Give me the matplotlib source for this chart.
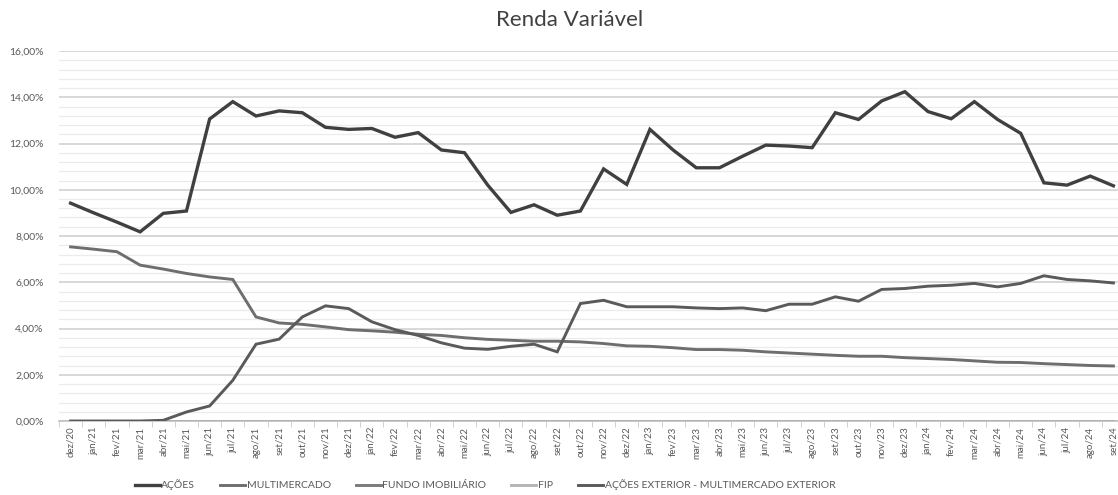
import numpy as np
import matplotlib.pyplot as plt
from matplotlib.ticker import MultipleLocator, FuncFormatter

plt.rcParams['font.family'] = ['Lato', 'DejaVu Sans']

# Monthly allocation (% of portfolio), dez/20 .. set/24
meses = ['dez/20', 'jan/21', 'fev/21', 'mar/21', 'abr/21', 'mai/21', 'jun/21', 'jul/21',
         'ago/21', 'set/21', 'out/21', 'nov/21', 'dez/21', 'jan/22', 'fev/22', 'mar/22',
         'abr/22', 'mai/22', 'jun/22', 'jul/22', 'ago/22', 'set/22', 'out/22', 'nov/22',
         'dez/22', 'jan/23', 'fev/23', 'mar/23', 'abr/23', 'mai/23', 'jun/23', 'jul/23',
         'ago/23', 'set/23', 'out/23', 'nov/23', 'dez/23', 'jan/24', 'fev/24', 'mar/24',
         'abr/24', 'mai/24', 'jun/24', 'jul/24', 'ago/24', 'set/24']

acoes = [9.42, 9.00, 8.60, 8.18, 8.98, 9.08, 13.06, 13.81, 13.19, 13.41, 13.33, 12.70,
         12.61, 12.65, 12.27, 12.47, 11.72, 11.60, 10.20, 9.02, 9.35, 8.90, 9.08, 10.90,
         10.23, 12.61, 11.72, 10.95, 10.95, 11.45, 11.93, 11.89, 11.82, 13.33, 13.04, 13.84,
         14.24, 13.38, 13.07, 13.81, 13.04, 12.44, 10.30, 10.20, 10.59, 10.17]

multimercado = [7.53, 7.43, 7.32, 6.74, 6.57, 6.38, 6.23, 6.12, 4.50, 4.24, 4.18, 4.07,
                3.95, 3.90, 3.84, 3.75, 3.70, 3.60, 3.53, 3.49, 3.45, 3.45, 3.42, 3.35,
                3.25, 3.23, 3.17, 3.09, 3.09, 3.06, 2.99, 2.94, 2.89, 2.84, 2.80, 2.80,
                2.74, 2.70, 2.66, 2.60, 2.54, 2.53, 2.48, 2.44, 2.40, 2.38]

fundo_imob = [0.0] * len(meses)
fip = [0.0] * len(meses)

acoes_exterior = [0.0, 0.0, 0.0, 0.0, 0.03, 0.39, 0.65, 1.76, 3.32, 3.54, 4.50, 4.98,
                  4.86, 4.29, 3.95, 3.70, 3.38, 3.15, 3.10, 3.23, 3.32, 2.99, 5.08, 5.22,
                  4.94, 4.94, 4.94, 4.89, 4.86, 4.89, 4.77, 5.05, 5.05, 5.37, 5.18, 5.69,
                  5.73, 5.83, 5.87, 5.95, 5.80, 5.95, 6.28, 6.12, 6.06, 5.97]

series = [
    ('AÇÕES', acoes, '#404040', 2.4),
    ('MULTIMERCADO', multimercado, '#6e6e6e', 2.1),
    ('FUNDO IMOBILIÁRIO', fundo_imob, '#7c7c7c', 2.1),
    ('FIP', fip, '#b4b4b4', 2.1),
    ('AÇÕES EXTERIOR - MULTIMERCADO EXTERIOR', acoes_exterior, '#5a5a5a', 2.1),
]

fig = plt.figure(figsize=(11.18, 4.95), dpi=100)
ax = fig.add_axes([59 / 1118, 74 / 495, 1066 / 1118, 370 / 495])

x = np.arange(len(meses))
for nome, vals, cor, lw in series:
    ax.plot(x, vals, color=cor, lw=lw, label=nome, solid_joinstyle='miter', zorder=3)

ax.set_xlim(-0.5, len(meses) - 0.5)
ax.set_ylim(0, 16)

ax.yaxis.set_major_locator(MultipleLocator(2))
ax.yaxis.set_minor_locator(MultipleLocator(0.4))
ax.yaxis.set_major_formatter(FuncFormatter(lambda v, _: f'{v:.2f}'.replace('.', ',') + '%'))
ax.grid(axis='y', which='major', color='#d2d2d2', lw=1.2, zorder=0)
ax.grid(axis='y', which='minor', color='#ebebeb', lw=0.9, zorder=0)

ax.set_xticks(x)
ax.set_xticklabels(meses, rotation=90, fontsize=7, color='#595959')
ax.set_xticks(np.arange(-0.5, len(meses), 1), minor=True)
ax.tick_params(axis='x', which='major', length=0, pad=4)
ax.tick_params(axis='x', which='minor', length=4, color='#c8c8c8')
ax.tick_params(axis='y', which='both', length=0, labelsize=7.5, labelcolor='#595959', pad=11)

for lado in ['top', 'right', 'left']:
    ax.spines[lado].set_visible(False)
ax.spines['bottom'].set_color('#c0c0c0')
ax.spines['bottom'].set_linewidth(1.2)

fig.text(570 / 1118, 1 - 20 / 495, 'Renda Variável', ha='center', va='center',
         fontsize=16, color='#404040')

fig.legend(loc='center', bbox_to_anchor=(485 / 1118, 10 / 495), ncol=5, frameon=False,
           fontsize=7.5, handlelength=2.4, handletextpad=0.15, columnspacing=2.4,
           labelcolor='#595959')

fig.savefig('out.png', dpi=100)
